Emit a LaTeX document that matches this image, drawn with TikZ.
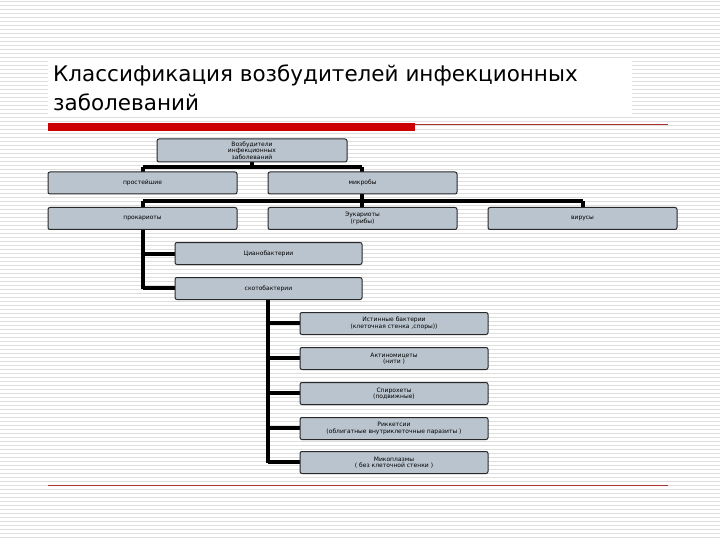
\documentclass[tikz,border=0pt]{standalone}
\usepackage{fontspec}
\setmainfont{DejaVu Sans}
\definecolor{boxfill}{RGB}{186,196,206}
\definecolor{boxline}{RGB}{40,40,40}
\definecolor{stripe}{RGB}{222,222,222}
\definecolor{barred}{RGB}{204,0,0}
\begin{document}
\begin{tikzpicture}[x=1pt,y=-1pt,
  bx/.style={draw=boxline,line width=1pt,fill=boxfill,rounded corners=2pt,minimum height=22pt,inner sep=1pt,align=center,font=\fontsize{6}{6.5}\selectfont},
  conn/.style={line width=3.5pt,black}]
\useasboundingbox (0,0) rectangle (720,540);
\fill[white] (0,0) rectangle (720,540);
\foreach \yy in {1,5,...,539} \draw[stripe,line width=0.6pt] (0,\yy) -- (720,\yy);
\fill[white] (48,58) rectangle (632,117);
\node[anchor=west,inner sep=0pt,font=\fontsize{21.5}{21.5}\selectfont] (t1) at (53,75) {Классификация возбудителей инфекционных};
\node[anchor=west,inner sep=0pt,font=\fontsize{21.5}{21.5}\selectfont] (t2) at (53,102) {заболеваний};
\fill[barred] (48,123) rectangle (415,131);
\draw[barred!60!gray,line width=0.6pt] (415,124) -- (668,124);
\draw[barred!60!gray,line width=0.6pt] (48,485) -- (668,485);
% connectors
\draw[conn] (252,162) -- (252,167) (143,167) -- (362,167) (143,167) -- (143,172) (362,167) -- (362,172);
\draw[conn] (362,194) -- (362,201) (143,201) -- (583,201) (143,201) -- (143,207) (362,201) -- (362,207) (583,201) -- (583,207);
\draw[conn] (143,230) -- (143,289) (143,254) -- (175,254) (143,288) -- (175,288);
\draw[conn] (268,300) -- (268,463) (268,323) -- (300,323) (268,358) -- (300,358) (268,393) -- (300,393) (268,428) -- (300,428) (268,462) -- (300,462);
% boxes
\node[bx,minimum width=190pt,minimum height=23pt] (root) at (252,150.5) {Возбудители\\инфекционных\\заболеваний};
\node[bx,minimum width=189pt] (pro) at (142.5,183) {простейшие};
\node[bx,minimum width=189pt] (mic) at (362.5,183) {микробы};
\node[bx,minimum width=189pt] (prk) at (142.5,218.5) {прокариоты};
\node[bx,minimum width=189pt] (euk) at (362.5,218.5) {Эукариоты\\(грибы)};
\node[bx,minimum width=189pt] (vir) at (582.5,218.5) {вирусы};
\node[bx,minimum width=187pt] (cyan) at (268.5,253.5) {Цианобактерии};
\node[bx,minimum width=187pt] (sko) at (268.5,288.5) {скотобактерии};
\node[bx,minimum width=188pt] (ist) at (394,323.5) {Истинные бактерии\\(клеточная стенка ,споры))};
\node[bx,minimum width=188pt] (akt) at (394,358.5) {Актиномицеты\\(нити )};
\node[bx,minimum width=188pt] (spi) at (394,393.5) {Спирохеты\\(подвижные)};
\node[bx,minimum width=188pt] (rik) at (394,428.5) {Риккетсии\\(облигатные внутриклеточные паразиты )};
\node[bx,minimum width=188pt] (mik) at (394,462.5) {Микоплазмы\\( без клеточной стенки )};
\end{tikzpicture}
\end{document}
